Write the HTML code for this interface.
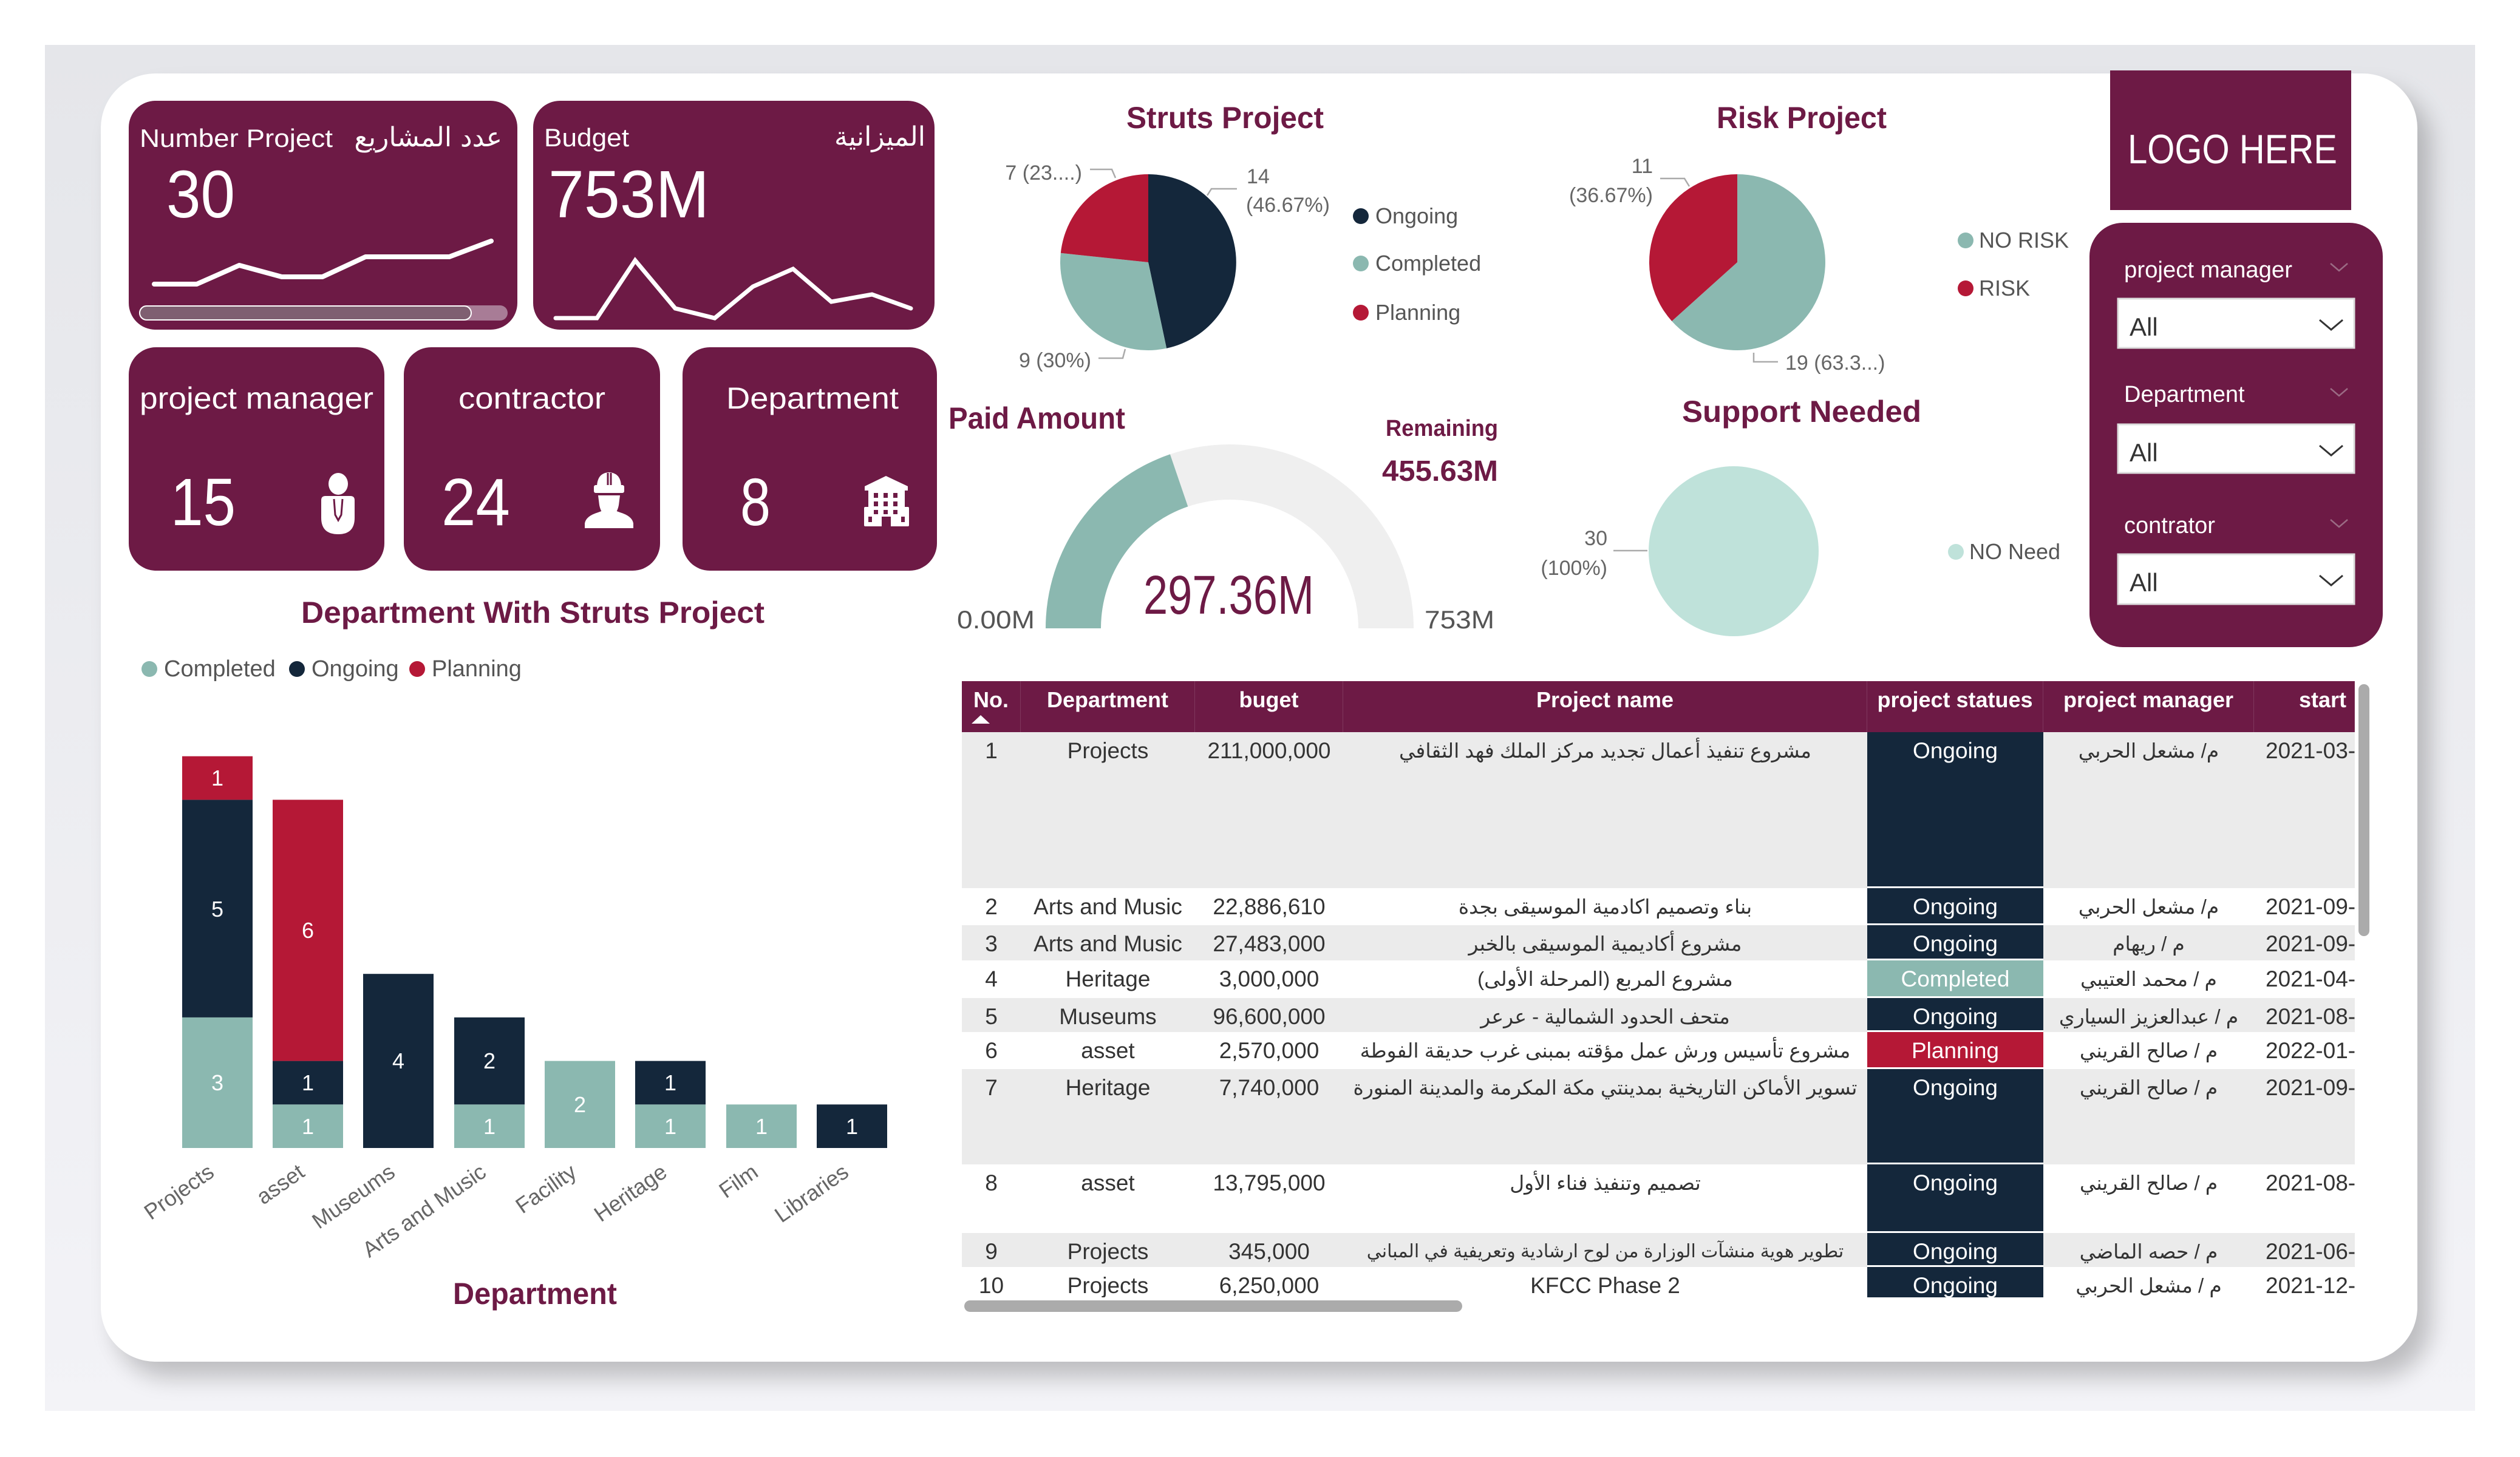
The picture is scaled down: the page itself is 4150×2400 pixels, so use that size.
<!DOCTYPE html>
<html><head><meta charset="utf-8">
<style>
*{margin:0;padding:0;box-sizing:border-box}
html,body{width:4150px;height:2400px;overflow:hidden;background:#fff;font-family:"Liberation Sans","DejaVu Sans",sans-serif}
.abs{position:absolute}
#bg{left:74px;top:74px;width:4002px;height:2250px;background:linear-gradient(180deg,#e5e6ea,#f3f3f7)}
#panel{left:166px;top:121px;width:3815px;height:2122px;background:#fff;border-radius:90px;box-shadow:22px 26px 38px rgba(0,0,0,0.22)}
svg{position:absolute;left:0;top:0}
.ar{position:absolute;color:#fff;font-family:"DejaVu Sans",sans-serif;direction:rtl;white-space:nowrap;font-size:44px;line-height:44px}
#tbl{left:1584px;top:1122px;width:2294px;height:1015px;overflow:hidden}
.r{position:absolute;left:0;width:2294px}
.g{background:#ebebeb}
.w{background:#fff}
.c{position:absolute;top:0;height:100%;padding-top:6px;line-height:50px;font-size:37px;color:#333;text-align:center;white-space:nowrap;overflow:hidden}
.c0{left:0;width:97px}
.c1{left:97px;width:287px}
.c2{left:384px;width:244px}
.c3{left:628px;width:863px;font-size:33px;direction:rtl}
.c4{left:1491px;width:290px;color:#fff;border-bottom:3px solid #fff}
.c5{left:1781px;width:347px;font-size:33px;direction:rtl}
.c6{left:2128px;width:166px;text-align:left;padding-left:19px}
.hd{background:#6d1a45;height:84px;top:0}
.hd .c{color:#fff;font-weight:bold;font-size:36px;border-right:1px solid rgba(255,255,255,0.13)}
.on{background:#14273b}
.co{background:#8bb8b0}
.pl{background:#b51836}
.sb{position:absolute;background:#ababab;border-radius:10px}
</style></head>
<body>
<div id="bg" class="abs"></div>
<div id="panel" class="abs"></div>

<svg width="4150" height="2400" viewBox="0 0 4150 2400" font-family="Liberation Sans, DejaVu Sans, sans-serif">
<!-- KPI cards -->
<g fill="#6d1a45">
<rect x="212" y="166" width="640" height="377" rx="44"/>
<rect x="878" y="166" width="661" height="377" rx="44"/>
<rect x="212" y="572" width="421" height="368" rx="45"/>
<rect x="665" y="572" width="422" height="368" rx="45"/>
<rect x="1124" y="572" width="419" height="368" rx="45"/>
<rect x="3475" y="116" width="397" height="230"/>
<rect x="3441" y="367" width="483" height="699" rx="55"/>
</g>
<g fill="#fff">
<text x="230" y="242" font-size="42" textLength="318" lengthAdjust="spacingAndGlyphs">Number Project</text>
<text x="896" y="241" font-size="42" textLength="140" lengthAdjust="spacingAndGlyphs">Budget</text>
<text x="274" y="358" font-size="110" textLength="113" lengthAdjust="spacingAndGlyphs">30</text>
<text x="903" y="358" font-size="110" textLength="265" lengthAdjust="spacingAndGlyphs">753M</text>
<text x="230" y="673" font-size="50" textLength="385" lengthAdjust="spacingAndGlyphs">project manager</text>
<text x="755" y="673" font-size="50" textLength="242" lengthAdjust="spacingAndGlyphs">contractor</text>
<text x="1196" y="673" font-size="50" textLength="284" lengthAdjust="spacingAndGlyphs">Department</text>
<text x="281" y="865" font-size="110" textLength="107" lengthAdjust="spacingAndGlyphs">15</text>
<text x="727" y="865" font-size="110" textLength="113" lengthAdjust="spacingAndGlyphs">24</text>
<text x="1219" y="865" font-size="110" textLength="50" lengthAdjust="spacingAndGlyphs">8</text>
<text x="3504" y="269" font-size="68" textLength="345" lengthAdjust="spacingAndGlyphs">LOGO HERE</text>
<text x="3498" y="457" font-size="38" textLength="277" lengthAdjust="spacingAndGlyphs">project manager</text>
<text x="3498" y="662" font-size="38">Department</text>
<text x="3498" y="878" font-size="38">contrator</text>
</g>
<!-- sparklines -->
<polyline points="254,468 324,468 394,437 464,456 531,456 602,423 740,423 809,397" fill="none" stroke="#fff" stroke-width="8" stroke-linejoin="round" stroke-linecap="round"/>
<polyline points="915,524 983,524 1046,429 1112,508 1177,524 1240,472 1306,443 1369,497 1436,485 1500,508" fill="none" stroke="#fff" stroke-width="7" stroke-linejoin="miter" stroke-linecap="round"/>
<rect x="229" y="503" width="607" height="25" rx="12.5" fill="#a87c96"/>
<rect x="230" y="504" width="546" height="23" rx="11.5" fill="#7f5f71" stroke="#fff" stroke-width="2"/>
<!-- icons -->
<g fill="#fff">
<ellipse cx="557" cy="797" rx="16" ry="18"/>
<path d="M529,824 Q529,817 536,817 L577,817 Q584,817 584,824 L584,853 Q584,880 557,880 Q529,880 529,853 Z"/>
<path d="M983,803 Q983,779 1003,778 Q1023,779 1023,803 Z"/>
<rect x="978" y="799" width="50" height="13" rx="3"/>
<path d="M985,816 L1021,816 L1019,832 Q1017,842 1013,845 L993,845 Q989,842 987,832 Z"/>
<path d="M963,870 L963,862 Q965,850 985,844 L993,841 L1013,841 L1021,844 Q1041,850 1043,862 L1043,870 Z"/>
<path d="M1424,801 L1459,784 L1495,801 L1495,808 L1424,808 Z"/>
<rect x="1430" y="805" width="60" height="35"/>
<rect x="1423" y="835" width="74" height="32" rx="2"/>
</g>
<path d="M550,822 L552,848 L557,857 L562,848 L564,822" fill="none" stroke="#6d1a45" stroke-width="3"/>
<line x1="1001" y1="779" x2="1001" y2="799" stroke="#6d1a45" stroke-width="3"/>
<line x1="1006" y1="779" x2="1006" y2="799" stroke="#6d1a45" stroke-width="3"/>
<g fill="#6d1a45">
<rect x="1439" y="812" width="7" height="8"/><rect x="1455" y="812" width="7" height="8"/><rect x="1471" y="812" width="7" height="8"/>
<rect x="1439" y="826" width="7" height="8"/><rect x="1455" y="826" width="7" height="8"/><rect x="1471" y="826" width="7" height="8"/>
<rect x="1439" y="840" width="7" height="7"/><rect x="1455" y="840" width="7" height="7"/><rect x="1471" y="840" width="7" height="7"/>
<rect x="1430" y="851" width="6" height="9"/><rect x="1484" y="851" width="6" height="9"/>
<rect x="1452" y="851" width="15" height="16"/>
</g>

<!-- Struts pie -->
<path d="M1891,432 L1891,287 A145,145 0 0 1 1921.1,573.8 Z" fill="#14273b"/>
<path d="M1891,432 L1921.1,573.8 A145,145 0 0 1 1746.8,416.8 Z" fill="#8bb8b0"/>
<path d="M1891,432 L1746.8,416.8 A145,145 0 0 1 1891,287 Z" fill="#b51836"/>
<g fill="none" stroke="#aaa" stroke-width="2.5">
<polyline points="1795,279 1831,279 1837,293"/>
<polyline points="2037,311 1995,311 1988,322"/>
<polyline points="1809,590 1849,590 1853,575"/>
<polyline points="2734,294 2774,294 2782,307"/>
<polyline points="2888,581 2888,596 2928,596"/>
<polyline points="2657,907 2713,907"/>
</g>
<g fill="#666" font-size="34">
<text x="1782" y="296" text-anchor="end">7 (23....)</text>
<text x="2053" y="302">14</text>
<text x="2052" y="349">(46.67%)</text>
<text x="1797" y="605" text-anchor="end">9 (30%)</text>
<text x="2722" y="285" text-anchor="end">11</text>
<text x="2722" y="333" text-anchor="end">(36.67%)</text>
<text x="2940" y="609">19 (63.3...)</text>
<text x="2647" y="898" text-anchor="end">30</text>
<text x="2647" y="947" text-anchor="end">(100%)</text>
</g>
<circle cx="2241" cy="356" r="13" fill="#14273b"/>
<circle cx="2241" cy="434" r="13" fill="#8bb8b0"/>
<circle cx="2241" cy="515" r="13" fill="#b51836"/>
<circle cx="3237" cy="396" r="13" fill="#8bb8b0"/>
<circle cx="3237" cy="475" r="13" fill="#b51836"/>
<circle cx="3221" cy="909" r="13" fill="#bfe2da"/>
<g fill="#555" font-size="36">
<text x="2265" y="368">Ongoing</text>
<text x="2265" y="446">Completed</text>
<text x="2265" y="527">Planning</text>
<text x="3259" y="408">NO RISK</text>
<text x="3259" y="487">RISK</text>
<text x="3243" y="921">NO Need</text>
</g>
<!-- Risk pie -->
<path d="M2861,432 L2861,287 A145,145 0 1 1 2753.2,529 Z" fill="#8bb8b0"/>
<path d="M2861,432 L2753.2,529 A145,145 0 0 1 2861,287 Z" fill="#b51836"/>
<!-- Support pie -->
<circle cx="2855" cy="908" r="140" fill="#bfe2da"/>

<!-- titles -->
<g fill="#6d1a45" font-weight="bold">
<text x="1855" y="211" font-size="50" textLength="325" lengthAdjust="spacingAndGlyphs">Struts Project</text>
<text x="2827" y="211" font-size="50" textLength="280" lengthAdjust="spacingAndGlyphs">Risk Project</text>
<text x="1562" y="706" font-size="50" textLength="291" lengthAdjust="spacingAndGlyphs">Paid Amount</text>
<text x="2770" y="695" font-size="50" textLength="394" lengthAdjust="spacingAndGlyphs">Support Needed</text>
<text x="2282" y="718" font-size="38" textLength="185" lengthAdjust="spacingAndGlyphs">Remaining</text>
<text x="2276" y="792" font-size="48" textLength="191" lengthAdjust="spacingAndGlyphs">455.63M</text>
<text x="496" y="1026" font-size="50" textLength="763" lengthAdjust="spacingAndGlyphs">Department With Struts Project</text>
<text x="746" y="2148" font-size="50" textLength="270" lengthAdjust="spacingAndGlyphs">Department</text>
</g>

<!-- gauge -->
<path d="M1722,1035 A303,303 0 0 1 2328,1035 L2237,1035 A212,212 0 0 0 1813,1035 Z" fill="#efefef"/>
<path d="M1722,1035 A303,303 0 0 1 1926.9,748.3 L1956.3,834.4 A212,212 0 0 0 1813,1035 Z" fill="#8bb8b0"/>
<text x="1883" y="1011" font-size="90" fill="#6d1a45" textLength="281" lengthAdjust="spacingAndGlyphs">297.36M</text>
<text x="1576" y="1035" font-size="42" fill="#555" textLength="128" lengthAdjust="spacingAndGlyphs">0.00M</text>
<text x="2346" y="1035" font-size="42" fill="#555" textLength="115" lengthAdjust="spacingAndGlyphs">753M</text>

<!-- slicer boxes -->
<g fill="#fff" stroke="#dcdcdc" stroke-width="3">
<rect x="3488" y="492" width="389" height="81"/>
<rect x="3488" y="699" width="389" height="80"/>
<rect x="3488" y="913" width="389" height="82"/>
</g>
<g fill="#333" font-size="42">
<text x="3507" y="553">All</text>
<text x="3507" y="760">All</text>
<text x="3507" y="974">All</text>
</g>
<g fill="none" stroke="#333" stroke-width="3">
<polyline points="3820,527 3839,543 3858,527"/>
<polyline points="3820,734 3839,750 3858,734"/>
<polyline points="3820,948 3839,964 3858,948"/>
</g>
<g fill="none" stroke="#9b6b84" stroke-width="2.5">
<polyline points="3838,434 3852,446 3866,434"/>
<polyline points="3838,640 3852,652 3866,640"/>
<polyline points="3838,856 3852,868 3866,856"/>
</g>

<!-- bar chart legend -->
<circle cx="246" cy="1102" r="13" fill="#8bb8b0"/>
<circle cx="489" cy="1102" r="13" fill="#14273b"/>
<circle cx="687" cy="1102" r="13" fill="#b51836"/>
<g fill="#555" font-size="38">
<text x="270" y="1114">Completed</text>
<text x="513" y="1114">Ongoing</text>
<text x="711" y="1114">Planning</text>
</g>
<!-- bars -->
<g fill="#8bb8b0">
<rect x="300" y="1675.9" width="116" height="215.1"/>
<rect x="449" y="1819.3" width="116" height="71.7"/>
<rect x="748" y="1819.3" width="116" height="71.7"/>
<rect x="897" y="1747.6" width="116" height="143.4"/>
<rect x="1046" y="1819.3" width="116" height="71.7"/>
<rect x="1196" y="1819.3" width="116" height="71.7"/>
</g>
<g fill="#14273b">
<rect x="300" y="1317.4" width="116" height="358.5"/>
<rect x="449" y="1747.6" width="116" height="71.7"/>
<rect x="598" y="1604.2" width="116" height="286.8"/>
<rect x="748" y="1675.9" width="116" height="143.4"/>
<rect x="1046" y="1747.6" width="116" height="71.7"/>
<rect x="1345" y="1819.3" width="116" height="71.7"/>
</g>
<g fill="#b51836">
<rect x="300" y="1245.7" width="116" height="71.7"/>
<rect x="449" y="1317.4" width="116" height="430.2"/>
</g>
<g fill="#fff" font-size="36" text-anchor="middle">
<text x="358" y="1796">3</text><text x="358" y="1510">5</text><text x="358" y="1294">1</text>
<text x="507" y="1868">1</text><text x="507" y="1796">1</text><text x="507" y="1545">6</text>
<text x="656" y="1760">4</text>
<text x="806" y="1868">1</text><text x="806" y="1760">2</text>
<text x="955" y="1832">2</text>
<text x="1104" y="1868">1</text><text x="1104" y="1796">1</text>
<text x="1254" y="1868">1</text>
<text x="1403" y="1868">1</text>
</g>
<g fill="#666" font-size="36" text-anchor="end">
<text transform="translate(355,1936) rotate(-35)">Projects</text>
<text transform="translate(504,1936) rotate(-35)">asset</text>
<text transform="translate(653,1936) rotate(-35)">Museums</text>
<text transform="translate(803,1936) rotate(-35)">Arts and Music</text>
<text transform="translate(952,1936) rotate(-35)">Facility</text>
<text transform="translate(1101,1936) rotate(-35)">Heritage</text>
<text transform="translate(1251,1936) rotate(-35)">Film</text>
<text transform="translate(1400,1936) rotate(-35)">Libraries</text>
</g>
</svg>

<div class="ar" style="right:3323px;top:205px">عدد المشاريع</div>
<div class="ar" style="right:2626px;top:204px">الميزانية</div>

<div id="tbl" class="abs">
 <div class="r hd">
  <div class="c c0" style="text-align:left;padding-left:19px">No.</div>
  <div class="c c1">Department</div>
  <div class="c c2">buget</div>
  <div class="c c3" style="font-size:36px;direction:ltr">Project name</div>
  <div class="c c4" style="border-bottom:none">project statues</div>
  <div class="c c5" style="font-size:36px;direction:ltr">project manager</div>
  <div class="c c6" style="text-align:right;padding-right:13px;padding-left:0">start</div>
  <svg width="60" height="84" style="left:0;top:0"><polygon points="16,70 46,70 31,56" fill="#fff"/></svg>
 </div>
 <div class="r g" style="top:84px;height:257px">
  <div class="c c0">1</div><div class="c c1">Projects</div><div class="c c2">211,000,000</div>
  <div class="c c3">مشروع تنفيذ أعمال تجديد مركز الملك فهد الثقافي</div>
  <div class="c c4 on">Ongoing</div><div class="c c5">م/ مشعل الحربي</div><div class="c c6">2021-03-</div>
 </div>
 <div class="r w" style="top:341px;height:61px">
  <div class="c c0">2</div><div class="c c1">Arts and Music</div><div class="c c2">22,886,610</div>
  <div class="c c3">بناء وتصميم اكادمية الموسيقى بجدة</div>
  <div class="c c4 on">Ongoing</div><div class="c c5">م/ مشعل الحربي</div><div class="c c6">2021-09-</div>
 </div>
 <div class="r g" style="top:402px;height:58px">
  <div class="c c0">3</div><div class="c c1">Arts and Music</div><div class="c c2">27,483,000</div>
  <div class="c c3">مشروع أكاديمية الموسيقى بالخبر</div>
  <div class="c c4 on">Ongoing</div><div class="c c5">م / ريهام</div><div class="c c6">2021-09-</div>
 </div>
 <div class="r w" style="top:460px;height:62px">
  <div class="c c0">4</div><div class="c c1">Heritage</div><div class="c c2">3,000,000</div>
  <div class="c c3">مشروع المربع (المرحلة الأولى)</div>
  <div class="c c4 co">Completed</div><div class="c c5">م / محمد العتيبي</div><div class="c c6">2021-04-</div>
 </div>
 <div class="r g" style="top:522px;height:56px">
  <div class="c c0">5</div><div class="c c1">Museums</div><div class="c c2">96,600,000</div>
  <div class="c c3">متحف الحدود الشمالية - عرعر</div>
  <div class="c c4 on">Ongoing</div><div class="c c5">م / عبدالعزيز السياري</div><div class="c c6">2021-08-</div>
 </div>
 <div class="r w" style="top:578px;height:61px">
  <div class="c c0">6</div><div class="c c1">asset</div><div class="c c2">2,570,000</div>
  <div class="c c3">مشروع تأسيس ورش عمل مؤقته بمبنى غرب حديقة الفوطة</div>
  <div class="c c4 pl">Planning</div><div class="c c5">م / صالح القريني</div><div class="c c6">2022-01-</div>
 </div>
 <div class="r g" style="top:639px;height:157px">
  <div class="c c0">7</div><div class="c c1">Heritage</div><div class="c c2">7,740,000</div>
  <div class="c c3">تسوير الأماكن التاريخية بمدينتي مكة المكرمة والمدينة المنورة</div>
  <div class="c c4 on">Ongoing</div><div class="c c5">م / صالح القريني</div><div class="c c6">2021-09-</div>
 </div>
 <div class="r w" style="top:796px;height:113px">
  <div class="c c0">8</div><div class="c c1">asset</div><div class="c c2">13,795,000</div>
  <div class="c c3">تصميم وتنفيذ فناء الأول</div>
  <div class="c c4 on">Ongoing</div><div class="c c5">م / صالح القريني</div><div class="c c6">2021-08-</div>
 </div>
 <div class="r g" style="top:909px;height:56px">
  <div class="c c0">9</div><div class="c c1">Projects</div><div class="c c2">345,000</div>
  <div class="c c3" style="font-size:30px">تطوير هوية منشآت الوزارة من لوح ارشادية وتعريفية في المباني</div>
  <div class="c c4 on">Ongoing</div><div class="c c5">م / حصه الماضي</div><div class="c c6">2021-06-</div>
 </div>
 <div class="r w" style="top:965px;height:70px">
  <div class="c c0">10</div><div class="c c1">Projects</div><div class="c c2">6,250,000</div>
  <div class="c c3" style="font-size:37px;direction:ltr">KFCC Phase 2</div>
  <div class="c c4 on">Ongoing</div><div class="c c5">م / مشعل الحربي</div><div class="c c6">2021-12-</div>
 </div>
</div>
<div class="sb" style="left:3884px;top:1127px;width:18px;height:415px"></div>
<div class="sb" style="left:1588px;top:2142px;width:820px;height:19px"></div>
</body></html>
